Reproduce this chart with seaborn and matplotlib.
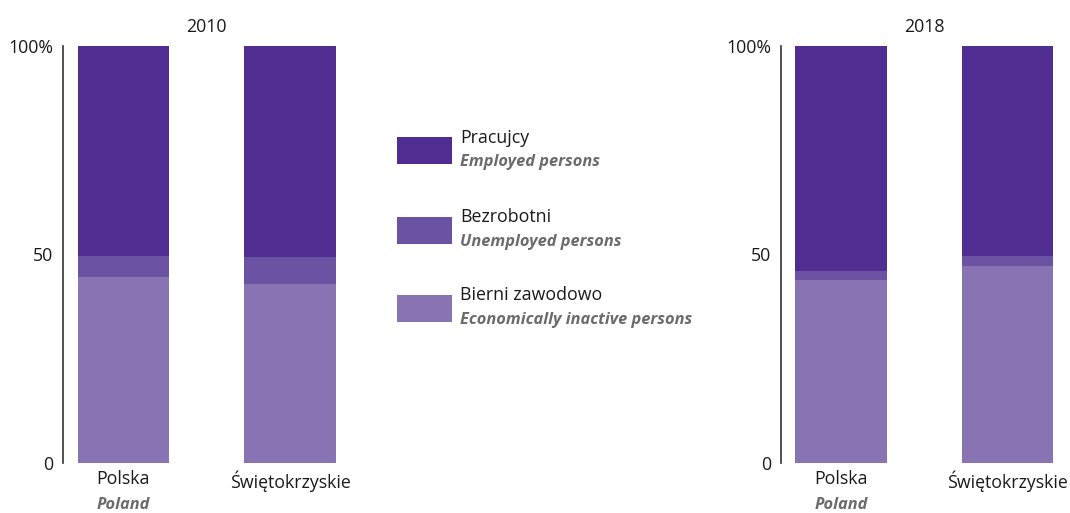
import matplotlib
matplotlib.use("Agg")
import matplotlib.pyplot as plt
from matplotlib.patches import Rectangle
import seaborn as sns
import pandas as pd
import numpy as np

# ---- data ----
regions = ["Polska", "Świętokrzyskie"]
regions_en = ["Poland", ""]
years = ["2010", "2018"]
employed = {"2010": [50.4, 50.6], "2018": [54.0, 50.4]}
unemployed = {"2010": [5.1, 6.5], "2018": [2.2, 2.4]}
inactive = {"2010": [44.5, 42.9], "2018": [43.8, 47.2]}
series_pl = ["Pracujcy", "Bezrobotni", "Bierni zawodowo"]
series_en = ["Employed persons", "Unemployed persons", "Economically inactive persons"]
colors = ["#502d91", "#6b52a2", "#8873b3"]
ytick_vals = [0, 50, 100]
ytick_labels = ["0", "50", "100%"]

sns.set_theme(style="white")
plt.rcParams['font.family'] = ['Open Sans', 'DejaVu Sans']

W, H = 1070, 513
fig = plt.figure(figsize=(W / 100, H / 100), dpi=100)
TXT = "#1a1a1a"
GRAY = "#6b6b6b"
FS = 12.8
FSI = 11.8

axes_px = [(63, 350.5), (780.7, 1068)]
top_px, bot_px = 46, 462.5
for yr, (x0, x1) in zip(years, axes_px):
    ax = fig.add_axes([x0 / W, (H - bot_px) / H, (x1 - x0) / W, (bot_px - top_px) / H])
    emp = np.array(employed[yr])
    une = np.array(unemployed[yr])
    ina = np.array(inactive[yr])
    layers = [emp + une + ina, une + ina, ina]
    for vals, c in zip(layers, colors):
        df = pd.DataFrame({"region": regions, "value": vals})
        sns.barplot(data=df, x="region", y="value", color=c, width=0.55,
                    saturation=1, linewidth=0, ax=ax, order=regions)
    ax.set_xlim(-0.363, 1.363)
    ax.set_ylim(0, 100)
    ax.set_xlabel("")
    ax.set_ylabel("")
    ax.set_yticks(ytick_vals)
    ax.set_yticklabels(ytick_labels)
    ax.tick_params(axis="y", length=0, pad=7, labelsize=FS, labelcolor=TXT)
    ax.tick_params(axis="x", length=0, pad=5.5, labelsize=FS, labelcolor=TXT)
    for s in ["top", "right", "bottom"]:
        ax.spines[s].set_visible(False)
    ax.spines["left"].set_color("#333333")
    ax.spines["left"].set_linewidth(1.2)
    ax.set_title(yr, fontsize=FS, color=TXT, pad=10)
    for i, en in enumerate(regions_en):
        if en:
            ax.annotate(en, xy=(i, 0), xycoords=("data", "axes fraction"),
                        xytext=(0, -30.5), textcoords="offset points",
                        ha="center", va="center", fontsize=FSI, color=GRAY,
                        fontstyle="italic", fontweight="bold")

# ---- legend (manual) ----
rect_tops = [137, 216.5, 295]
for top, c, pl, en in zip(rect_tops, colors, series_pl, series_en):
    fig.patches.append(Rectangle((397 / W, (H - top - 27) / H), 55 / W, 27 / H,
                                 transform=fig.transFigure, facecolor=c, edgecolor="none"))
    fig.text(460 / W, 1 - (top + 0.5) / H, pl, fontsize=FS, color=TXT, ha="left", va="center")
    fig.text(460 / W, 1 - (top + 25) / H, en, fontsize=FSI, color=GRAY, ha="left",
             va="center", fontstyle="italic", fontweight="bold")

fig.savefig("out.png", dpi=100)
